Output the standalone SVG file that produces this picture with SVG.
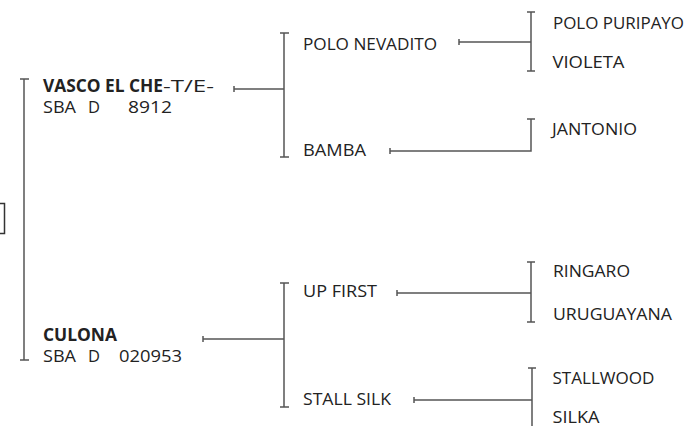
<svg xmlns="http://www.w3.org/2000/svg" width="687" height="426" viewBox="0 0 687 426">
<style>
text{font-family:"Open Sans","DejaVu Sans Condensed","Liberation Sans",sans-serif;font-size:17px;fill:#222}
.b{font-weight:bold}
.ln{stroke:#555;stroke-width:1.5;fill:none}
</style>
<rect width="687" height="426" fill="#fff"/>
<g id="subject">
<rect x="-20" y="203.5" width="24.5" height="30" fill="none" stroke="#333" stroke-width="1.5"/>
</g>
<g id="connectors" class="ln">
<path d="M24 79V360M20 79H29M20 360H29"/>
<path d="M234 86V92M234 89H284M284 33V157M280 33H289M280 157H289"/>
<path d="M203 336V342M203 339H284M284 283V407M280 283H289M280 407H289"/>
<path d="M459 39V45M459 42H531M531 12V71M527 12H535M527 71H535"/>
<path d="M390 148V154M390 151H531V119M527 119H535"/>
<path d="M397 290V296M397 293H531M531 262V322M527 262H535M527 322H535"/>
<path d="M414 397V403M414 400H532M532 368V430M528 368H536"/>
</g>
<g id="vasco">
<text x="43" y="91.5"><tspan class="b" textLength="120" lengthAdjust="spacingAndGlyphs">VASCO EL CHE</tspan><tspan textLength="51" lengthAdjust="spacingAndGlyphs">-T/E-</tspan></text>
<text y="113"><tspan x="43" textLength="33" lengthAdjust="spacingAndGlyphs">SBA</tspan><tspan x="88" textLength="12" lengthAdjust="spacingAndGlyphs">D</tspan><tspan x="128" textLength="44" lengthAdjust="spacingAndGlyphs">8912</tspan></text>
</g>
<g id="culona">
<text class="b" x="43" y="340.5" textLength="74" lengthAdjust="spacingAndGlyphs">CULONA</text>
<text y="361.5"><tspan x="43" textLength="33" lengthAdjust="spacingAndGlyphs">SBA</tspan><tspan x="88" textLength="12" lengthAdjust="spacingAndGlyphs">D</tspan><tspan x="119" textLength="63" lengthAdjust="spacingAndGlyphs">020953</tspan></text>
</g>
<g id="polo-nevadito"><text x="303" y="50" textLength="134" lengthAdjust="spacingAndGlyphs">POLO NEVADITO</text></g>
<g id="bamba"><text x="303" y="155.5" textLength="63" lengthAdjust="spacingAndGlyphs">BAMBA</text></g>
<g id="up-first"><text x="303" y="297" textLength="74" lengthAdjust="spacingAndGlyphs">UP FIRST</text></g>
<g id="stall-silk"><text x="303" y="405" textLength="88" lengthAdjust="spacingAndGlyphs">STALL SILK</text></g>
<g id="polo-puripayo"><text x="553" y="28.5" textLength="131" lengthAdjust="spacingAndGlyphs">POLO PURIPAYO</text></g>
<g id="violeta"><text x="552.5" y="68" textLength="72" lengthAdjust="spacingAndGlyphs">VIOLETA</text></g>
<g id="jantonio"><text x="552" y="135" textLength="85" lengthAdjust="spacingAndGlyphs">JANTONIO</text></g>
<g id="ringaro"><text x="553" y="276.5" textLength="77" lengthAdjust="spacingAndGlyphs">RINGARO</text></g>
<g id="uruguayana"><text x="553" y="320" textLength="119" lengthAdjust="spacingAndGlyphs">URUGUAYANA</text></g>
<g id="stallwood"><text x="552.5" y="384" textLength="102" lengthAdjust="spacingAndGlyphs">STALLWOOD</text></g>
<g id="silka"><text x="552.5" y="422.5" textLength="47" lengthAdjust="spacingAndGlyphs">SILKA</text></g>
</svg>
